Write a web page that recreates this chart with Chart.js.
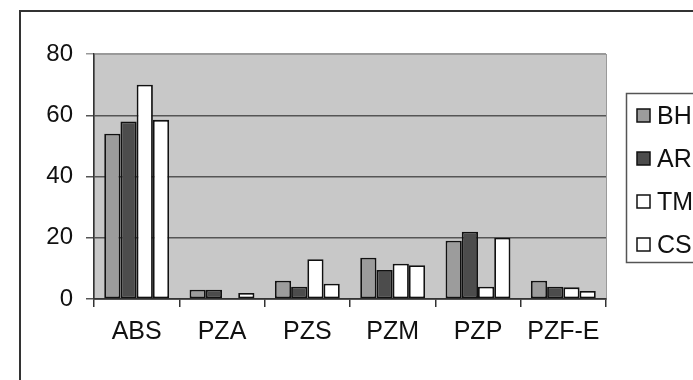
<!DOCTYPE html>
<html>
<head>
<meta charset="utf-8">
<script src="https://cdn.jsdelivr.net/npm/chart.js@4"></script>
<style>
  html, body { margin: 0; padding: 0; background: #fff; overflow: hidden; }
  #wrap { width: 693px; height: 380px; position: relative; }
</style>
</head>
<body>
<div id="wrap"><canvas id="barChart" width="693" height="380"></canvas></div>
<script>
// values
const categories = ['ABS', 'PZA', 'PZS', 'PZM', 'PZP', 'PZF-E'];
const seriesNames = ['BH', 'AR', 'TM', 'CS'];
const bhValues = [54, 3, 6, 13.5, 19, 6];
const arValues = [58, 3, 4, 9.5, 22, 4];
const tmValues = [70, 0, 13, 11.5, 4, 3.8];
const csValues = [58.5, 2, 5, 11, 20, 2.6];
const yTicks = [0, 20, 40, 60, 80];

const fills = ['#9c9c9c', '#4c4c4c', '#ffffff', '#ffffff'];
const FONT = '"Liberation Sans", Arial, sans-serif';

// grey plot area + frame around the picture
const backdrop = {
  id: 'backdrop',
  beforeDraw(chart) {
    const c = chart.ctx, a = chart.chartArea;
    c.save();
    c.fillStyle = '#c8c8c8';
    c.fillRect(a.left, a.top, a.right - a.left, a.bottom - a.top);
    c.strokeStyle = '#9a9a9a';
    c.lineWidth = 1;
    c.strokeRect(a.left + 0.5, a.top + 0.5, a.right - a.left, a.bottom - a.top);
    // outer frame (left and top only visible)
    c.strokeStyle = '#333';
    c.lineWidth = 2;
    c.beginPath();
    c.moveTo(20, 400);
    c.lineTo(20, 11);
    c.lineTo(700, 11);
    c.stroke();
    c.restore();
  }
};

// legend box on the right, cut by the page edge
const sideLegend = {
  id: 'sideLegend',
  afterDraw(chart) {
    const c = chart.ctx;
    c.save();
    c.strokeStyle = '#555';
    c.lineWidth = 1.5;
    c.strokeRect(626.5, 93.5, 100, 169);
    c.font = '25px ' + FONT;
    c.textBaseline = 'middle';
    chart.data.datasets.forEach((ds, i) => {
      const y = 116 + i * 43;
      c.fillStyle = ds.backgroundColor;
      c.fillRect(637, y - 7, 13, 13);
      c.strokeStyle = '#111';
      c.lineWidth = 1.5;
      c.strokeRect(637, y - 7, 13, 13);
      c.fillStyle = '#111';
      c.fillText(ds.label, 657, y + 1);
    });
    c.restore();
  }
};

const allValues = [bhValues, arValues, tmValues, csValues];

new Chart(document.getElementById('barChart'), {
  type: 'bar',
  data: {
    labels: categories,
    datasets: seriesNames.map((name, i) => ({
      label: name,
      data: allValues[i],
      backgroundColor: fills[i],
      borderColor: '#111',
      borderWidth: 1.8,
      borderSkipped: false,
      categoryPercentage: 0.76,
      barPercentage: 1.0
    }))
  },
  plugins: [backdrop, sideLegend],
  options: {
    responsive: false,
    animation: false,
    layout: { padding: { left: 0, top: 54, right: 87, bottom: 0 } },
    plugins: { legend: { display: false }, tooltip: { enabled: false } },
    scales: {
      x: {
        afterFit(scale) { scale.height = 81; },
        grid: { drawOnChartArea: false, tickLength: 8, color: '#333', lineWidth: 1.5 },
        border: { color: '#333', width: 1.5 },
        ticks: { color: '#111', font: { family: FONT, size: 25 }, padding: 10, maxRotation: 0 }
      },
      y: {
        min: 0,
        max: 80,
        afterFit(scale) { scale.width = 94; },
        afterBuildTicks(scale) { scale.ticks = yTicks.map(v => ({ value: v })); },
        grid: {
          tickLength: 8,
          lineWidth: 1.5,
          color: ctx => (ctx.tick && ctx.tick.value === 80 ? '#999' : '#555')
        },
        border: { color: '#333', width: 1.5 },
        ticks: { color: '#111', font: { family: FONT, size: 24 }, padding: 13 }
      }
    }
  }
});
</script>
</body>
</html>
